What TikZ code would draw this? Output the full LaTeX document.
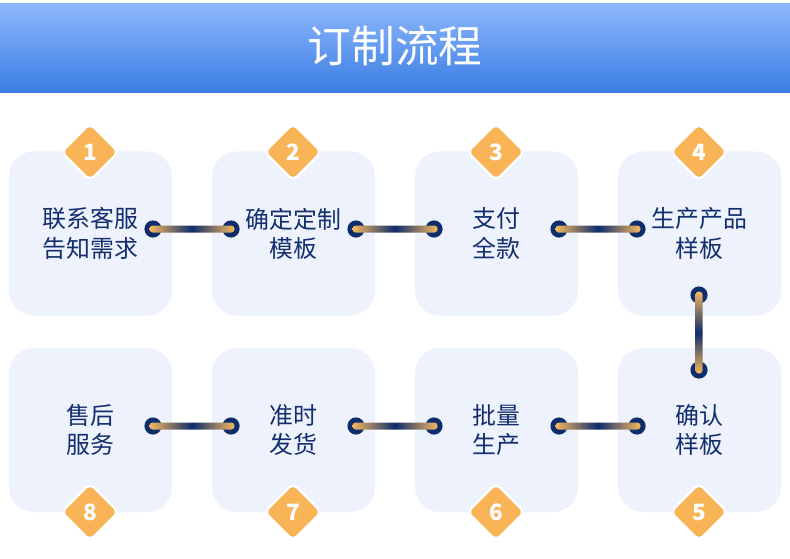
\documentclass[tikz,border=0pt]{standalone}
\usepackage{fontspec}
\setmainfont{Noto Sans CJK SC}
\usetikzlibrary{shapes.geometric, positioning, calc}

\definecolor{headtop}{RGB}{142,184,252}
\definecolor{headbot}{RGB}{58,125,227}
\definecolor{cardbg}{RGB}{238,242,252}
\definecolor{navy}{RGB}{14,45,108}
\definecolor{txtnavy}{RGB}{18,46,110}
\definecolor{gold}{RGB}{246,184,94}
\definecolor{badgeor}{RGB}{249,180,88}

\begin{document}
\begin{tikzpicture}[x=0.025cm, y=-0.025cm,
    card/.style={fill=cardbg, rounded corners=0.62cm, minimum width=4.075cm, minimum height=4.1cm,
        inner sep=0pt, align=center, text=txtnavy, font=\fontsize{17}{20.8}\selectfont},
    badge/.style={diamond, fill=badgeor, draw=white, line width=1.6pt, rounded corners=4pt,
        minimum width=1.45cm, minimum height=1.45cm, inner sep=0pt, text=white,
        font=\fontsize{16}{16}\selectfont\bfseries},
    dot/.style={circle, fill=navy, minimum size=0.43cm, inner sep=0pt},
    hlink/.style={left color=gold, right color=gold, middle color=navy, rounded corners=0.08cm},
    vlink/.style={top color=gold, bottom color=gold, middle color=navy, rounded corners=0.08cm},
]
    \useasboundingbox (0,0) rectangle (790,559);

    % header band
    \shade[top color=headtop, bottom color=headbot] (0,3) rectangle (790,92);
    \node[text=white, font=\fontsize{31}{36}\selectfont] (title) at (395,46) {订制流程};

    % cards
    \node[card] (s1) at (90.5,233.5) {联系客服\\告知需求};
    \node[card] (s2) at (293.5,233.5) {确定定制\\模板};
    \node[card] (s3) at (496.5,233.5) {支付\\全款};
    \node[card] (s4) at (699.5,233.5) {生产产品\\样板};
    \node[card] (s5) at (699.5,430) {确认\\样板};
    \node[card] (s6) at (496.5,430) {批量\\生产};
    \node[card] (s7) at (293.5,430) {准时\\发货};
    \node[card] (s8) at (90.5,430) {售后\\服务};

    % number badges
    \node[badge] (n1) at (90,152) {1};
    \node[badge] (n2) at (293,152) {2};
    \node[badge] (n3) at (496,152) {3};
    \node[badge] (n4) at (699,152) {4};
    \node[badge] (n5) at (699,512) {5};
    \node[badge] (n6) at (496,512) {6};
    \node[badge] (n7) at (293,512) {7};
    \node[badge] (n8) at (90,512) {8};

    % link dots
    \node[dot] (a1) at (153,229) {};
    \node[dot] (a2) at (231,229) {};
    \node[dot] (b2) at (356,229) {};
    \node[dot] (b3) at (434,229) {};
    \node[dot] (c3) at (559,229) {};
    \node[dot] (c4) at (637,229) {};
    \node[dot] (d4) at (699,295) {};
    \node[dot] (d5) at (699,370) {};
    \node[dot] (e5) at (637,426) {};
    \node[dot] (e6) at (559,426) {};
    \node[dot] (f6) at (434,426) {};
    \node[dot] (f7) at (356,426) {};
    \node[dot] (g7) at (231,426) {};
    \node[dot] (g8) at (153,426) {};

    % gradient links
    \shade[hlink] ($(a1.center)+(-3.5,-3.5)$) rectangle ($(a2.center)+(3.5,3.5)$);
    \shade[hlink] ($(b2.center)+(-3.5,-3.5)$) rectangle ($(b3.center)+(3.5,3.5)$);
    \shade[hlink] ($(c3.center)+(-3.5,-3.5)$) rectangle ($(c4.center)+(3.5,3.5)$);
    \shade[vlink] ($(d4.center)+(-3.5,-3.5)$) rectangle ($(d5.center)+(3.5,3.5)$);
    \shade[hlink] ($(e6.center)+(-3.5,-3.5)$) rectangle ($(e5.center)+(3.5,3.5)$);
    \shade[hlink] ($(f7.center)+(-3.5,-3.5)$) rectangle ($(f6.center)+(3.5,3.5)$);
    \shade[hlink] ($(g8.center)+(-3.5,-3.5)$) rectangle ($(g7.center)+(3.5,3.5)$);
\end{tikzpicture}
\end{document}
